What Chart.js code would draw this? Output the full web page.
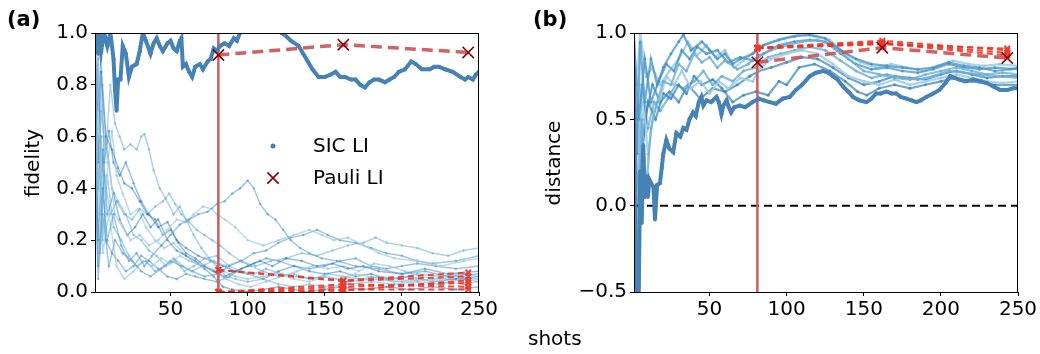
<!DOCTYPE html>
<html>
<head>
<meta charset="utf-8">
<script src="https://cdn.jsdelivr.net/npm/chart.js@4"></script>
<style>
  body { margin: 0; background: #fff; }
  #wrap { position: relative; width: 1040px; height: 354px; font-family: "DejaVu Sans", sans-serif; color: #000; }
  canvas { position: absolute; top: 0; }
  .lbl { position: absolute; font-size: 20px; white-space: nowrap; }
  .panel { font-weight: bold; font-size: 21px; }
  .ytitle { transform: translate(-50%, -50%) rotate(-90deg); }
</style>
</head>
<body>
<div id="wrap">
  <canvas id="ga" width="520" height="354" style="left:0"></canvas>
  <canvas id="gb" width="520" height="354" style="left:520px"></canvas>
  <div class="lbl panel" style="left:7px;top:7px">(a)</div>
  <div class="lbl panel" style="left:533px;top:7px">(b)</div>
  <div class="lbl ytitle" style="left:32px;top:163px">fidelity</div>
  <div class="lbl ytitle" style="left:553px;top:163px">distance</div>
  <div class="lbl" style="left:528px;top:326px">shots</div>
</div>
<script>
// ---------- donnees ----------
const xTicks = [50, 100, 150, 200, 250];
const cutoff = 81;            // tirs ou la mesure Pauli commence
const pauliShots = [81, 162, 243];

// (a) fidelite de l'etat vrai (ligne epaisse)
const fidTrue = [[1,0.95],[2,1.0],[3,0.92],[4,1.0],[5,0.93],[7,1.0],[9,0.95],[11,1.0],[13,0.9],[14,0.78],[15,0.70],[16,0.82],[17.5,0.82],[19,0.95],[21,0.92],[23,0.83],[25,0.87],[28,0.88],[30,0.93],[32,1.0],[34,0.97],[37,0.92],[39,0.96],[41,0.98],[43,0.95],[45,0.93],[48,0.96],[50,0.97],[52,0.94],[54,0.93],[56,0.97],[57,0.98],[58,0.87],[60,0.88],[62,0.85],[64,0.83],[66,0.87],[69,0.88],[71,0.86],[74,0.89],[76,0.9],[78,0.94],[80,0.93],[82,0.95],[85,0.96],[88,0.95],[91,0.98],[93,0.97],[95,1.0],[100,1.02],[110,1.03],[118,1.02],[122,1.0],[124.5,0.99],[128,0.97],[133,0.95],[136,0.92],[139,0.89],[142,0.86],[146,0.83],[150,0.83],[154,0.84],[157,0.85],[160,0.83],[163,0.83],[167,0.82],[170,0.82],[173,0.8],[176,0.79],[179,0.81],[182,0.82],[185,0.82],[189,0.81],[192,0.82],[195,0.83],[198,0.85],[202,0.86],[206,0.89],[209,0.88],[213,0.86],[218,0.86],[221,0.87],[224,0.87],[228,0.86],[233,0.85],[238,0.83],[241,0.82],[243,0.83],[246,0.82],[248,0.84],[250,0.85]];

// (a) fidelites des autres etats (lignes claires)
const fidOther1 = [[1,0.85],[3,0.3],[5,0.7],[8,0.55],[11,0.8],[14,0.65],[17,0.6],[20,0.55],[24,0.57],[28,0.55],[31,0.6],[33,0.61],[36,0.55],[39,0.47],[43,0.4],[47,0.36],[52,0.3],[56,0.33],[60,0.28],[65,0.22],[70,0.17],[75,0.13],[80,0.1],[86,0.06],[92,0.05],[100,0.04],[110,0.05],[120,0.03],[130,0.02],[140,0.03],[150,0.02],[165,0.03],[180,0.04],[195,0.03],[210,0.04],[225,0.03],[240,0.05],[250,0.04]];
const fidOther2 = [[1,0.6],[3,0.1],[6,0.4],[9,0.2],[13,0.3],[18,0.18],[23,0.12],[28,0.15],[33,0.1],[38,0.14],[44,0.18],[50,0.22],[56,0.26],[62,0.28],[68,0.3],[74,0.31],[80,0.34],[85,0.35],[90,0.38],[95,0.4],[100,0.43],[104,0.4],[108,0.34],[113,0.3],[118,0.28],[123,0.24],[128,0.2],[134,0.17],[140,0.15],[148,0.13],[158,0.12],[170,0.1],[185,0.09],[200,0.07],[215,0.08],[230,0.06],[250,0.07]];
const fidOther3 = [[1,0.2],[3,0.7],[6,0.35],[10,0.5],[14,0.3],[19,0.25],[24,0.2],[30,0.22],[36,0.18],[42,0.2],[48,0.24],[54,0.28],[60,0.27],[65,0.3],[71,0.33],[77,0.32],[80,0.3],[85,0.28],[92,0.25],[100,0.2],[110,0.18],[120,0.2],[130,0.22],[140,0.24],[148,0.22],[156,0.2],[165,0.21],[175,0.18],[185,0.15],[195,0.13],[210,0.12],[225,0.1],[240,0.12],[250,0.13]];
const fidOther4 = [[1,0.95],[3,0.5],[5,0.85],[8,0.6],[12,0.55],[16,0.48],[20,0.42],[25,0.4],[30,0.35],[35,0.3],[40,0.28],[45,0.22],[50,0.24],[55,0.19],[60,0.15],[66,0.13],[72,0.1],[78,0.08],[85,0.06],[92,0.08],[100,0.1],[108,0.12],[116,0.1],[125,0.13],[135,0.12],[145,0.1],[155,0.11],[165,0.09],[175,0.1],[185,0.08],[200,0.07],[215,0.09],[230,0.07],[250,0.08]];
const fidOther5 = [[1,0.3],[3,0.9],[6,0.2],[9,0.45],[13,0.25],[18,0.2],[23,0.14],[28,0.1],[34,0.12],[40,0.08],[46,0.1],[52,0.13],[58,0.1],[64,0.08],[70,0.1],[78,0.12],[86,0.1],[95,0.12],[105,0.1],[115,0.12],[125,0.13],[135,0.15],[145,0.14],[155,0.16],[165,0.18],[175,0.19],[183,0.21],[190,0.19],[200,0.18],[210,0.17],[220,0.15],[230,0.14],[240,0.16],[250,0.17]];
const fidOther6 = [[1,0.5],[3,0.05],[6,0.3],[10,0.1],[14,0.2],[19,0.15],[25,0.12],[31,0.08],[37,0.06],[44,0.09],[50,0.12],[57,0.1],[64,0.08],[72,0.06],[80,0.07],[88,0.1],[96,0.12],[104,0.15],[112,0.16],[120,0.19],[128,0.21],[136,0.22],[145,0.24],[152,0.22],[160,0.2],[170,0.19],[180,0.17],[190,0.15],[200,0.14],[210,0.12],[220,0.11],[235,0.12],[250,0.14]];
const fidOther7 = [[1,0.1],[3,0.6],[6,0.15],[10,0.3],[15,0.1],[20,0.05],[26,0.08],[32,0.12],[38,0.1],[44,0.13],[50,0.11],[56,0.14],[62,0.12],[70,0.1],[78,0.08],[86,0.05],[94,0.03],[102,0.02],[112,0.04],[122,0.06],[132,0.08],[142,0.1],[152,0.09],[162,0.1],[172,0.08],[182,0.11],[192,0.1],[202,0.08],[212,0.06],[225,0.05],[238,0.06],[250,0.05]];
const fidOther8 = [[1,0.7],[3,0.2],[6,0.55],[9,0.3],[13,0.38],[17,0.28],[22,0.22],[27,0.25],[32,0.3],[37,0.25],[42,0.28],[48,0.2],[54,0.16],[60,0.14],[66,0.12],[72,0.09],[78,0.06],[84,0.02],[90,0.01],[100,0.0],[110,0.01],[120,0.02],[130,0.01],[140,0.0],[150,0.01],[160,0.02],[175,0.01],[190,0.02],[205,0.01],[220,0.02],[235,0.01],[250,0.02]];
const fidOther9 = [[1,0.4],[3,0.95],[5,0.3],[8,0.6],[12,0.4],[16,0.35],[21,0.3],[26,0.22],[31,0.2],[36,0.16],[41,0.14],[47,0.1],[53,0.12],[59,0.08],[65,0.1],[72,0.13],[80,0.14],[88,0.1],[96,0.08],[104,0.07],[112,0.09],[122,0.07],[132,0.06],[142,0.05],[152,0.07],[162,0.06],[172,0.05],[185,0.06],[198,0.05],[210,0.07],[225,0.06],[240,0.07],[250,0.06]];
const fidOther10 = [[1,0.8],[3,0.4],[5,0.6],[8,0.2],[12,0.15],[16,0.12],[21,0.08],[26,0.1],[31,0.14],[36,0.12],[42,0.09],[48,0.06],[54,0.05],[60,0.07],[66,0.06],[72,0.05],[80,0.04],[88,0.06],[96,0.09],[104,0.11],[112,0.13],[120,0.12],[130,0.1],[140,0.09],[150,0.1],[160,0.12],[170,0.13],[180,0.1],[190,0.09],[200,0.1],[210,0.11],[222,0.1],[235,0.09],[250,0.1]];
const fidOther11 = [[1,0.2],[3,0.5],[6,0.8],[9,0.5],[12,0.62],[15,0.45],[19,0.38],[24,0.3],[29,0.32],[34,0.25],[40,0.2],[46,0.17],[52,0.19],[58,0.15],[64,0.12],[70,0.1],[76,0.09],[84,0.08],[92,0.06],[100,0.05],[110,0.06],[120,0.07],[130,0.05],[140,0.04],[150,0.06],[160,0.05],[170,0.07],[180,0.06],[195,0.04],[210,0.05],[225,0.04],[240,0.03],[250,0.04]];
const fidOther12 = [[1,1.0],[3,0.7],[5,0.9],[7,0.5],[10,0.62],[13,0.5],[17,0.45],[21,0.5],[26,0.42],[31,0.35],[36,0.3],[42,0.25],[48,0.27],[54,0.2],[60,0.17],[68,0.14],[76,0.12],[84,0.1],[92,0.08],[100,0.07],[110,0.05],[120,0.08],[130,0.1],[140,0.08],[150,0.07],[160,0.08],[170,0.06],[180,0.07],[190,0.05],[205,0.06],[220,0.04],[235,0.05],[250,0.06]];
const fidOther13 = [[1,0.5],[4,0.15],[7,0.45],[11,0.3],[15,0.35],[20,0.3],[25,0.28],[30,0.32],[35,0.3],[40,0.33],[45,0.35],[49,0.38],[53,0.34],[57,0.3],[62,0.27],[67,0.24],[72,0.22],[77,0.2],[82,0.18],[88,0.15],[95,0.12],[102,0.1],[110,0.08],[120,0.06],[130,0.07],[140,0.05],[150,0.06],[165,0.04],[180,0.05],[200,0.04],[220,0.05],[250,0.05]];

// (a) Pauli LI
const fidPauliTrue = [0.915, 0.955, 0.925];
const fidPauliOther = [
  [0.085, 0.045, 0.075],
  [0.085, 0.042, 0.06],
  [0.0, 0.005, 0.045],
  [0.0, 0.02, 0.035],
  [0.0, 0.03, 0.02],
  [0.0, 0.01, 0.01]
];

// (b) distance, ligne epaisse
const distTrue = [[1,0.8],[2,-0.6],[3,-0.35],[4,-0.6],[5,0.2],[6,-0.1],[7,0.35],[8,0.05],[9,0.17],[10,0.05],[11,0.15],[12,0.13],[13.6,0.11],[14.6,-0.08],[16,0.12],[17.8,0.13],[19,0.22],[20,0.3],[22,0.38],[24,0.33],[26.4,0.31],[28.5,0.42],[31,0.4],[33,0.45],[35,0.44],[37,0.5],[39.3,0.54],[41,0.52],[43,0.6],[44.7,0.63],[46,0.58],[48,0.61],[51,0.6],[54.5,0.63],[56,0.6],[57.7,0.53],[59,0.58],[61,0.61],[62.5,0.57],[64,0.54],[66,0.57],[69.6,0.58],[73,0.57],[78,0.6],[82,0.62],[85,0.61],[89,0.6],[93,0.59],[97.5,0.62],[102,0.63],[106,0.67],[110,0.7],[115,0.75],[119,0.77],[123.6,0.78],[127,0.77],[130,0.75],[133,0.73],[136.5,0.69],[140,0.66],[143,0.63],[147,0.61],[151.7,0.6],[155,0.62],[158,0.65],[161,0.65],[164.6,0.66],[168,0.65],[171,0.65],[174,0.63],[177.6,0.62],[181,0.61],[184,0.6],[187,0.61],[190.5,0.63],[195,0.65],[199,0.67],[203,0.71],[206,0.75],[209,0.74],[212,0.73],[216,0.72],[221,0.73],[226,0.72],[229.8,0.71],[234,0.69],[238.5,0.67],[243,0.67],[247,0.68],[250,0.68]];

// (b) distance, autres lignes
const dist1 = [[1,0.9],[3,0.3],[5,0.95],[8,0.6],[12,0.85],[16,0.7],[20,0.8],[25,0.88],[30,0.95],[33,0.99],[38,0.9],[45,0.95],[50,0.9],[55,0.85],[60,0.88],[65,0.82],[70,0.85],[78,0.88],[85,0.93],[95,0.96],[105,0.98],[115,0.99],[125,0.97],[135,0.9],[145,0.85],[155,0.82],[165,0.81],[175,0.8],[185,0.79],[195,0.8],[205,0.83],[215,0.81],[225,0.8],[235,0.78],[245,0.79],[250,0.8]];
const dist2 = [[1,0.7],[3,-0.2],[6,0.5],[9,0.1],[12,0.45],[16,0.6],[20,0.72],[25,0.7],[30,0.82],[35,0.78],[40,0.88],[45,0.83],[50,0.86],[55,0.8],[60,0.84],[68,0.79],[75,0.82],[82,0.87],[90,0.9],[100,0.93],[110,0.95],[120,0.96],[130,0.93],[140,0.85],[150,0.78],[160,0.76],[170,0.74],[180,0.73],[190,0.76],[200,0.78],[210,0.8],[220,0.78],[230,0.76],[240,0.77],[250,0.76]];
const dist3 = [[1,0.8],[4,0.2],[7,0.6],[10,0.3],[14,0.55],[18,0.62],[22,0.75],[27,0.7],[32,0.78],[38,0.68],[44,0.72],[50,0.65],[56,0.72],[62,0.68],[70,0.74],[78,0.72],[83,0.8],[90,0.85],[100,0.88],[110,0.9],[120,0.88],[130,0.82],[140,0.75],[150,0.72],[160,0.7],[170,0.73],[180,0.7],[190,0.72],[200,0.74],[210,0.76],[220,0.74],[230,0.72],[240,0.71],[250,0.72]];
const dist4 = [[1,0.6],[3,-0.4],[6,0.3],[10,0.6],[15,0.5],[20,0.65],[25,0.62],[30,0.7],[35,0.65],[40,0.75],[45,0.7],[52,0.73],[58,0.68],[65,0.6],[72,0.64],[80,0.66],[88,0.64],[95,0.72],[100,0.7],[108,0.8],[118,0.82],[128,0.78],[138,0.72],[146,0.66],[152,0.64],[160,0.68],[170,0.7],[180,0.68],[190,0.7],[200,0.72],[210,0.74],[220,0.72],[235,0.7],[250,0.7]];
const dist5 = [[1,0.95],[4,0.5],[8,0.85],[12,0.6],[17,0.72],[22,0.82],[27,0.78],[32,0.9],[37,0.85],[42,0.92],[48,0.88],[55,0.9],[62,0.83],[70,0.86],[78,0.84],[85,0.88],[95,0.93],[105,0.95],[115,0.96],[125,0.95],[135,0.88],[145,0.82],[155,0.79],[165,0.8],[175,0.78],[185,0.77],[195,0.79],[205,0.82],[215,0.8],[225,0.79],[235,0.8],[250,0.79]];
const dist6 = [[1,0.5],[3,0.0],[6,0.7],[10,0.45],[14,0.6],[18,0.55],[23,0.62],[28,0.7],[33,0.68],[40,0.72],[46,0.78],[52,0.7],[58,0.75],[65,0.72],[72,0.78],[80,0.8],[88,0.86],[96,0.88],[105,0.9],[115,0.92],[125,0.9],[135,0.84],[145,0.78],[155,0.74],[165,0.76],[175,0.74],[185,0.73],[195,0.75],[205,0.78],[215,0.77],[225,0.76],[235,0.75],[250,0.74]];
const dist7 = [[1,1.0],[3,0.7],[5,1.0],[9,0.75],[13,0.8],[18,0.7],[24,0.78],[30,0.85],[36,0.95],[42,0.87],[48,0.93],[54,0.86],[60,0.9],[66,0.8],[72,0.84],[80,0.9],[88,0.94],[98,0.97],[108,0.99],[118,0.98],[128,0.96],[138,0.88],[148,0.83],[158,0.8],[168,0.82],[178,0.8],[188,0.78],[198,0.81],[208,0.84],[218,0.82],[228,0.81],[238,0.82],[250,0.81]];
const dist8 = [[1,0.4],[4,0.1],[8,0.5],[13,0.7],[18,0.6],[24,0.66],[30,0.6],[36,0.7],[44,0.62],[52,0.68],[60,0.66],[68,0.7],[76,0.75],[82,0.78],[90,0.8],[100,0.83],[110,0.86],[120,0.85],[130,0.8],[140,0.74],[150,0.7],[160,0.72],[170,0.75],[180,0.74],[190,0.73],[200,0.76],[210,0.78],[220,0.76],[230,0.74],[240,0.75],[250,0.75]];

// (b) Pauli LI
const distPauliTrue = [0.83, 0.915, 0.855];
const distPauliOther = [
  [0.915, 0.955, 0.9],
  [0.915, 0.945, 0.885],
  [0.912, 0.94, 0.87],
  [0.91, 0.935, 0.91]
];

// ---------- construction ----------
const FONT = "DejaVu Sans";
const pts = arr => arr.map(p => ({ x: p[0], y: p[1] }));
const pauliPts = vals => vals.map((v, i) => ({ x: pauliShots[i], y: v }));

function lightLine(data, color) {
  return { data: pts(data), borderColor: color, backgroundColor: color, borderWidth: 1.5,
           pointRadius: 1.3, pointBorderWidth: 0, order: 6, clip: 0 };
}
function thickLine(data) {
  return { data: pts(data), borderColor: "#4682b4", backgroundColor: "#4682b4", borderWidth: 4,
           pointRadius: 2, pointBorderWidth: 0, order: 3, clip: 0 };
}
function cutLine(ymin, ymax) {
  return { data: [{ x: cutoff, y: ymin }, { x: cutoff, y: ymax }], borderColor: "#cd5c5c",
           borderWidth: 2.5, pointRadius: 0, order: 4, clip: 0 };
}
function pauliMain(vals) {
  return { data: pauliPts(vals), borderColor: "rgba(205,80,80,0.9)", borderWidth: 3.5, borderDash: [11, 6],
           pointStyle: "crossRot", pointRadius: 8, pointBorderColor: "#8b0000", pointBorderWidth: 1.6,
           order: 1, clip: 0 };
}
function pauliSmall(vals) {
  return { data: pauliPts(vals), borderColor: "rgba(235,55,40,0.9)", borderWidth: 2, borderDash: [6, 4],
           pointStyle: "crossRot", pointRadius: 4, pointBorderColor: "rgba(235,55,40,0.9)", pointBorderWidth: 2,
           order: 2, clip: 0 };
}

const frame = {
  id: "frame",
  afterDatasetsDraw(chart) {
    const a = chart.chartArea, c = chart.ctx;
    c.save();
    c.strokeStyle = "#000";
    c.lineWidth = 1;
    c.strokeRect(a.left + 0.5, a.top + 0.5, a.right - a.left - 1, a.bottom - a.top);
    c.restore();
  }
};

function opts(yMin, yMax, yStep, yWidth, padRight, fmt) {
  const tickFont = { family: FONT, size: 20 };
  return {
    responsive: false, animation: false,
    layout: { padding: { top: 33, right: padRight, bottom: 0, left: 0 } },
    plugins: { legend: { display: false }, tooltip: { enabled: false } },
    elements: { line: { tension: 0, fill: false } },
    scales: {
      x: {
        type: "linear", min: 1, max: 250,
        afterBuildTicks: s => { s.ticks = xTicks.map(v => ({ value: v })); },
        afterFit: s => { s.height = 62; },
        grid: { drawOnChartArea: false, color: "#000", tickLength: 4 },
        border: { color: "#000" },
        ticks: { color: "#000", font: tickFont, padding: 2, maxRotation: 0 }
      },
      y: {
        min: yMin, max: yMax,
        afterFit: s => { s.width = yWidth; },
        grid: { drawOnChartArea: false, color: "#000", tickLength: 4 },
        border: { color: "#000" },
        ticks: { color: "#000", font: tickFont, stepSize: yStep, padding: 3, callback: fmt }
      }
    }
  };
}

// ---------- graphe (a) ----------
const blues = ["rgba(107,174,214,0.55)", "rgba(66,146,198,0.5)", "rgba(158,202,225,0.7)", "rgba(33,113,181,0.45)"];
const fidOthers = [fidOther1, fidOther2, fidOther3, fidOther4, fidOther5, fidOther6, fidOther7,
                   fidOther8, fidOther9, fidOther10, fidOther11, fidOther12, fidOther13];

// legende dans le cadre (a)
const legendA = {
  id: "legendA",
  afterDraw(chart) {
    const c = chart.ctx;
    c.save();
    c.fillStyle = "#4682b4";
    c.beginPath(); c.arc(273, 146, 2.5, 0, Math.PI * 2); c.fill();
    c.strokeStyle = "#8b0000";
    c.lineWidth = 1.6;
    Chart.helpers.drawPoint(c, { pointStyle: "crossRot", radius: 8, borderWidth: 1.6 }, 273, 178);
    c.fillStyle = "#000";
    c.font = "20px " + FONT;
    c.textBaseline = "middle";
    c.fillText("SIC LI", 313, 147);
    c.fillText("Pauli LI", 313, 179);
    c.restore();
  }
};

new Chart(document.getElementById("ga"), {
  type: "line",
  data: {
    datasets: [
      ...fidOthers.map((d, i) => lightLine(d, blues[i % blues.length])),
      thickLine(fidTrue),
      cutLine(0, 1),
      pauliMain(fidPauliTrue),
      ...fidPauliOther.map(pauliSmall)
    ]
  },
  options: opts(0, 1, 0.2, 95, 41, v => v.toFixed(1)),
  plugins: [frame, legendA]
});

// ---------- graphe (b) ----------
const bluesB = ["rgba(66,146,198,0.75)", "rgba(107,174,214,0.8)", "rgba(158,202,225,0.85)", "rgba(50,130,190,0.7)"];
const distOthers = [dist1, dist2, dist3, dist4, dist5, dist6, dist7, dist8];

new Chart(document.getElementById("gb"), {
  type: "line",
  data: {
    datasets: [
      { data: [{ x: 1, y: 0 }, { x: 250, y: 0 }], borderColor: "#000", borderWidth: 2,
        borderDash: [8, 5], pointRadius: 0, order: 5 },
      ...distOthers.map((d, i) => {
        const ds = lightLine(d, bluesB[i % bluesB.length]);
        ds.borderWidth = 2.2; ds.pointRadius = 1.5;
        return ds;
      }),
      thickLine(distTrue),
      cutLine(-0.5, 1),
      pauliMain(distPauliTrue),
      ...distPauliOther.map(pauliSmall)
    ]
  },
  options: opts(-0.5, 1, 0.5, 114, 22, v => (v < 0 ? "\u2212" : "") + Math.abs(v).toFixed(1)),
  plugins: [frame]
});
</script>
</body>
</html>
